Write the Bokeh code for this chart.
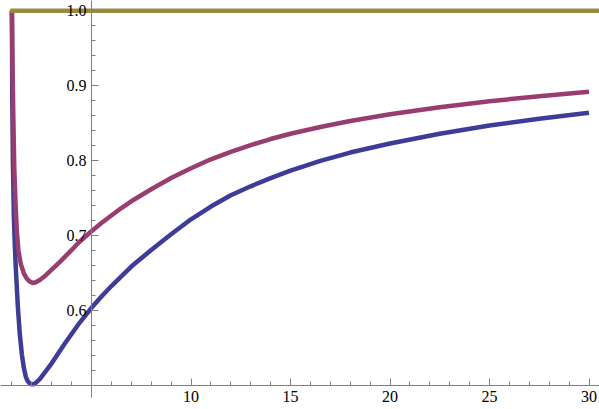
from bokeh.plotting import figure
from bokeh.models import FixedTicker, LinearAxis, Range1d, NumeralTickFormatter
from bokeh.embed import file_html
from bokeh.resources import INLINE

# Series
blue_x = [1.0, 1.02, 1.05, 1.1, 1.15, 1.2, 1.3, 1.4, 1.5, 1.6, 1.7, 1.8, 1.9, 2.0,
          2.1, 2.2, 2.4, 2.6, 2.8, 3.0, 3.3, 3.6, 4.0, 4.4, 5.0, 5.5, 6.0, 6.5,
          7.0, 7.5, 8.0, 9.0, 10.0, 11.0, 12.0, 13.0, 14.0, 15.0, 16.5, 18.0,
          20.0, 22.5, 25.0, 27.5, 30.0]
blue_y = [1.0, 0.88, 0.80, 0.725, 0.685, 0.655, 0.605, 0.568, 0.542, 0.524, 0.512, 0.506,
          0.503, 0.502, 0.502, 0.504, 0.509, 0.516, 0.523, 0.530, 0.542, 0.554, 0.569,
          0.584, 0.604, 0.619, 0.633, 0.646, 0.659, 0.670, 0.681, 0.702, 0.722, 0.739,
          0.754, 0.766, 0.777, 0.787, 0.800, 0.811, 0.823, 0.836, 0.847, 0.856, 0.864]

magenta_x = [1.0, 1.03, 1.07, 1.12, 1.18, 1.25, 1.33, 1.45, 1.6, 1.75, 1.9, 2.05,
             2.2, 2.4, 2.6, 2.8, 3.0, 3.4, 3.85, 4.4, 5.0, 5.5, 6.0, 6.5, 7.0, 7.5,
             8.0, 9.0, 10.0, 11.0, 12.0, 13.0, 14.0, 15.0, 16.5, 18.0, 20.0, 22.5,
             25.0, 27.5, 30.0]
magenta_y = [1.0, 0.93, 0.86, 0.79, 0.745, 0.705, 0.680, 0.662, 0.650, 0.643, 0.639, 0.637,
             0.638, 0.641, 0.645, 0.650, 0.655, 0.665, 0.677, 0.692, 0.706, 0.717, 0.727,
             0.737, 0.746, 0.754, 0.762, 0.777, 0.790, 0.802, 0.812, 0.821, 0.829, 0.836,
             0.845, 0.853, 0.862, 0.8715, 0.8795, 0.886, 0.892]

level_x = [0.92, 30.53]
level_y = [1.0, 1.0]

x_major = [10, 15, 20, 25, 30]
x_minor = [v for v in range(1, 31) if v not in x_major and v != 5]
y_major = [0.6, 0.7, 0.8, 0.9, 1.0]
y_minor = [round(0.5 + 0.02 * i, 2) for i in range(1, 26)]

p = figure(width=599, height=409, output_backend="svg", toolbar_location=None,
           x_range=Range1d(0.4271, 30.5276), y_range=Range1d(0.46840, 1.01373),
           min_border_left=0, min_border_right=0, min_border_top=0, min_border_bottom=0,
           x_axis_location=None, y_axis_location=None)
p.outline_line_color = None
p.background_fill_color = "white"
p.border_fill_color = "white"
for g in p.grid:
    g.visible = False

AX = "#808080"
font = "Liberation Serif"

xaxis = LinearAxis(fixed_location=0.5,
                   ticker=FixedTicker(ticks=x_major, minor_ticks=x_minor),
                   axis_line_color=AX, major_tick_line_color=AX, minor_tick_line_color=AX,
                   major_tick_in=7, major_tick_out=0, minor_tick_in=4, minor_tick_out=0,
                   major_label_standoff=5, major_label_text_font=font,
                   major_label_text_font_size="16px", major_label_text_color="black")
p.add_layout(xaxis, "below")

yaxis = LinearAxis(fixed_location=5, bounds=(0.4844, 1.01373),
                   ticker=FixedTicker(ticks=y_major, minor_ticks=y_minor),
                   formatter=NumeralTickFormatter(format="0.0"),
                   axis_line_color=AX, major_tick_line_color=AX, minor_tick_line_color=AX,
                   major_tick_in=7, major_tick_out=0, minor_tick_in=4, minor_tick_out=0,
                   major_label_standoff=5, major_label_text_font=font,
                   major_label_text_font_size="16px", major_label_text_color="black")
p.add_layout(yaxis, "left")

p.line(blue_x, blue_y, line_color="#3d3d99", line_width=4.5, line_join="round")
p.line(magenta_x, magenta_y, line_color="#993d71", line_width=4.5, line_join="round")
p.line(level_x, level_y, line_color="#998b3d", line_width=4.5)

open("out.html", "w").write(file_html(p, INLINE))
